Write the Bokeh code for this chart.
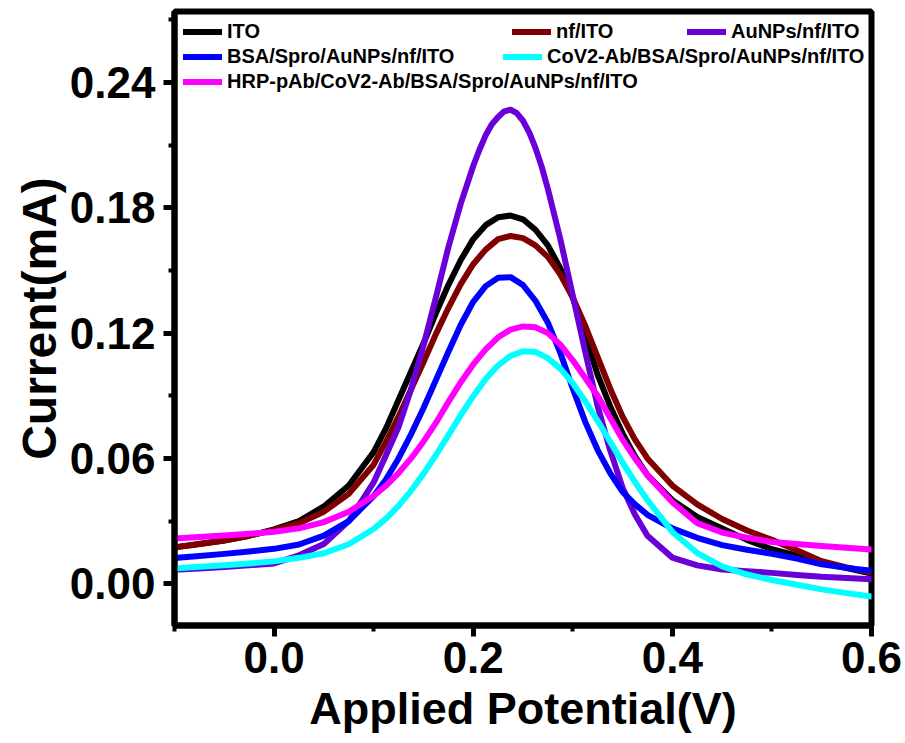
from bokeh.plotting import figure
from bokeh.models import Range1d, FixedTicker, PrintfTickFormatter, Legend, LegendItem
from bokeh.embed import file_html
from bokeh.resources import INLINE

# Applied potential (V)
potential = [-0.1, -0.075, -0.05, -0.025, 0.0, 0.025, 0.05, 0.075, 0.1,
             0.1125, 0.125, 0.1375, 0.15, 0.1625, 0.175, 0.1875, 0.2, 0.2125,
             0.225, 0.2375, 0.25, 0.2625, 0.275, 0.2875, 0.3, 0.3125, 0.325,
             0.3375, 0.35, 0.3625, 0.375, 0.4, 0.425, 0.45, 0.475, 0.5, 0.525,
             0.55, 0.575, 0.6]
potential_au = [-0.1, -0.075, -0.05, -0.025, 0.0, 0.025, 0.05, 0.075, 0.1,
                0.1125, 0.125, 0.1375, 0.15, 0.1625, 0.175, 0.1875, 0.2,
                0.20625, 0.2125, 0.21875, 0.225, 0.23125, 0.2375, 0.24375, 0.25,
                0.25625, 0.2625, 0.26875, 0.275, 0.2875, 0.3, 0.3125, 0.325,
                0.3375, 0.35, 0.3625, 0.375, 0.4, 0.425, 0.45, 0.475, 0.5, 0.525,
                0.55, 0.575, 0.6]

# Current (mA)
ito = [0.0174, 0.0190, 0.0207, 0.0230, 0.0260, 0.0300, 0.0370, 0.0470, 0.0630,
       0.0745, 0.0880, 0.1015, 0.1150, 0.1295, 0.1430, 0.1550, 0.1650, 0.1717,
       0.1755, 0.1763, 0.1745, 0.1695, 0.1620, 0.1510, 0.1370, 0.1190, 0.1000,
       0.0850, 0.0720, 0.0610, 0.0520, 0.0400, 0.0320, 0.0265, 0.0210, 0.0165,
       0.0135, 0.0100, 0.0075, 0.0049]
nf_ito = [0.0174, 0.0190, 0.0207, 0.0230, 0.0258, 0.0290, 0.0345, 0.0430, 0.0570,
          0.0680, 0.0800, 0.0930, 0.1060, 0.1195, 0.1320, 0.1435, 0.1530, 0.1600,
          0.1650, 0.1665, 0.1655, 0.1620, 0.1565, 0.1480, 0.1370, 0.1235, 0.1085,
          0.0935, 0.0800, 0.0690, 0.0600, 0.0470, 0.0380, 0.0310, 0.0255, 0.0210,
          0.0160, 0.0108, 0.0078, 0.0054]
aunps = [0.0067, 0.0073, 0.0080, 0.0088, 0.0097, 0.0136, 0.0190, 0.0300, 0.0485,
         0.0616, 0.0750, 0.0930, 0.1140, 0.1370, 0.1610, 0.1820, 0.2000,
         0.2078, 0.2147, 0.2200, 0.2235, 0.2262, 0.2270, 0.2253, 0.2217,
         0.2161, 0.2087, 0.1997, 0.1890, 0.1650, 0.1380, 0.1110, 0.0850,
         0.0640, 0.0460, 0.0330, 0.0230, 0.0125, 0.0088, 0.0068, 0.0060, 0.0052,
         0.0042, 0.0033, 0.0027, 0.0022]
bsa = [0.0123, 0.0133, 0.0143, 0.0154, 0.0167, 0.0188, 0.0230, 0.0300, 0.0420,
       0.0500, 0.0600, 0.0715, 0.0840, 0.0975, 0.1110, 0.1240, 0.1350, 0.1425,
       0.1465, 0.1468, 0.1430, 0.1355, 0.1250, 0.1105, 0.0935, 0.0775, 0.0640,
       0.0530, 0.0440, 0.0380, 0.0330, 0.0265, 0.0220, 0.0185, 0.0163, 0.0143,
       0.0120, 0.0093, 0.0076, 0.0062]
cov2 = [0.0073, 0.0081, 0.0089, 0.0097, 0.0107, 0.0124, 0.0146, 0.0189, 0.0262,
        0.0312, 0.0373, 0.0445, 0.0526, 0.0616, 0.0710, 0.0807, 0.0898, 0.0980,
        0.1046, 0.1091, 0.1113, 0.1110, 0.1080, 0.1030, 0.0960, 0.0874, 0.0780,
        0.0680, 0.0580, 0.0487, 0.0400, 0.0248, 0.0147, 0.0083, 0.0044, 0.0018,
        -0.0005, -0.0027, -0.0045, -0.0061]
hrp = [0.0217, 0.0224, 0.0231, 0.0239, 0.0249, 0.0265, 0.0295, 0.0345, 0.0420,
       0.0470, 0.0530, 0.0600, 0.0680, 0.0770, 0.0870, 0.0965, 0.1050, 0.1122,
       0.1180, 0.1217, 0.1232, 0.1228, 0.1200, 0.1145, 0.1070, 0.0985, 0.0900,
       0.0795, 0.0690, 0.0600, 0.0520, 0.0390, 0.0290, 0.0245, 0.0220, 0.0200,
       0.0190, 0.0181, 0.0172, 0.0164]

labels = ["ITO", "nf/ITO", "AuNPs/nf/ITO", "BSA/Spro/AuNPs/nf/ITO",
          "CoV2-Ab/BSA/Spro/AuNPs/nf/ITO", "HRP-pAb/CoV2-Ab/BSA/Spro/AuNPs/nf/ITO"]
colors = ["#000000", "#800000", "#6A00D8", "#0000FF", "#00FFFF", "#FF00FF"]
xs_list = [potential, potential, potential_au, potential, potential, potential]
series = [ito, nf_ito, aunps, bsa, cov2, hrp]

x_major = [0.0, 0.2, 0.4, 0.6]
x_minor = [-0.1, 0.1, 0.3, 0.5]
y_major = [0.0, 0.06, 0.12, 0.18, 0.24]
y_minor = [0.03, 0.09, 0.15, 0.21, 0.27]

FONT = "Liberation Sans"

p = figure(width=905, height=743, x_range=Range1d(-0.1, 0.6), y_range=Range1d(-0.02, 0.274),
           min_border_left=174, min_border_right=34, min_border_top=11, min_border_bottom=118,
           output_backend="svg", toolbar_location=None)
p.background_fill_color = "white"
p.border_fill_color = "white"
p.xgrid.visible = False
p.ygrid.visible = False
p.outline_line_color = "black"
p.outline_line_width = 6

renderers = []
for xs, ys, c in zip(xs_list, series, colors):
    r = p.line(xs, ys, line_color=c, line_width=6, line_cap="round", line_join="round")
    renderers.append(r)

for ax in (p.xaxis[0], p.yaxis[0]):
    ax.axis_line_width = 6
    ax.axis_line_color = "black"
    ax.major_tick_line_width = 5
    ax.minor_tick_line_width = 4
    ax.major_tick_out = 11
    ax.major_tick_in = 0
    ax.minor_tick_out = 6
    ax.minor_tick_in = 0
    ax.major_label_text_font = FONT
    ax.major_label_text_font_style = "bold"
    ax.major_label_text_font_size = "44px"
    ax.major_label_text_color = "black"
    ax.axis_label_text_font = FONT
    ax.axis_label_text_font_style = "bold"
    ax.axis_label_text_color = "black"

p.xaxis.axis_label_text_font_size = "45px"
p.yaxis.axis_label_text_font_size = "48px"
p.xaxis.ticker = FixedTicker(ticks=x_major, minor_ticks=x_minor)
p.yaxis.ticker = FixedTicker(ticks=y_major, minor_ticks=y_minor)
p.xaxis.formatter = PrintfTickFormatter(format="%.1f")
p.yaxis.formatter = PrintfTickFormatter(format="%.2f")
p.xaxis.axis_label = "Applied Potential(V)"
p.yaxis.axis_label = "Current(mA)"
p.xaxis.major_label_standoff = 5
p.yaxis.major_label_standoff = 8
p.xaxis.axis_label_standoff = 7
p.yaxis.axis_label_standoff = 1

FRAME_H = 614
ROW = 25
TOP = 8

def make_legend(idx, vx, row0):
    items = [LegendItem(label=labels[i], renderers=[renderers[i]]) for i in idx]
    n = len(idx)
    vy = FRAME_H - TOP - row0 * ROW - n * ROW
    leg = Legend(items=items, location=(vx, vy), padding=0, spacing=0, margin=0,
                 glyph_width=39, glyph_height=ROW, label_height=ROW, label_standoff=5,
                 label_text_font=FONT, label_text_font_style="bold",
                 label_text_font_size="20px", label_text_color="black",
                 background_fill_alpha=0, border_line_alpha=0)
    p.add_layout(leg)

make_legend([0, 3, 5], 9, 0)
make_legend([1], 338, 0)
make_legend([2], 513, 0)
make_legend([4], 329, 1)

open("out.html", "w").write(file_html(p, INLINE))
